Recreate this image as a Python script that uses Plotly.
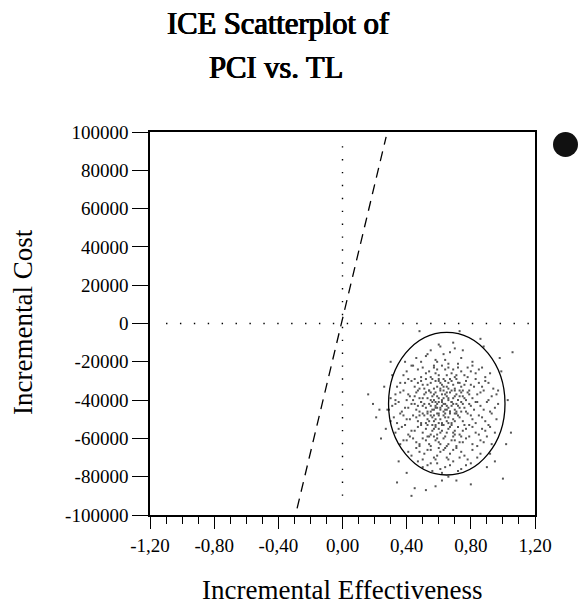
import plotly.graph_objects as go

# ---- data -------------------------------------------------------------
x_tick_vals = [-1.2, -0.8, -0.4, 0.0, 0.4, 0.8, 1.2]
x_tick_text = ["-1,20", "-0,80", "-0,40", "0,00", "0,40", "0,80", "1,20"]
x_minor_vals = [-1.1, -1.0, -0.9, -0.7, -0.6, -0.5, -0.3, -0.2, -0.1,
                0.1, 0.2, 0.3, 0.5, 0.6, 0.7, 0.9, 1.0, 1.1]
y_tick_vals = [-100000, -80000, -60000, -40000, -20000, 0,
               20000, 40000, 60000, 80000, 100000]
y_tick_text = ["-100000", "-80000", "-60000", "-40000", "-20000", "0",
               "20000", "40000", "60000", "80000", "100000"]

# bootstrap ICE replicates (incremental effectiveness, incremental cost in thousands)
ice_effect = [
    0.55, 0.63, 0.70, 0.58, 0.74, 0.49, 0.66, 0.81, 0.61, 0.44,
    0.40, 0.47, 0.52, 0.57, 0.60, 0.64, 0.68, 0.72, 0.76, 0.80, 0.85, 0.89, 0.55, 0.62, 0.70, 0.50,
    0.36, 0.41, 0.45, 0.49, 0.53, 0.56, 0.59, 0.61, 0.64, 0.66, 0.69, 0.71, 0.74, 0.77, 0.80, 0.83,
    0.87, 0.91, 0.51, 0.58, 0.63, 0.73, 0.67, 0.47,
    0.33, 0.38, 0.42, 0.46, 0.48, 0.51, 0.54, 0.56, 0.58, 0.60, 0.62, 0.63, 0.65, 0.67, 0.69, 0.71,
    0.73, 0.75, 0.78, 0.81, 0.84, 0.88, 0.93, 0.57, 0.61, 0.66, 0.70, 0.53, 0.44, 0.77,
    0.31, 0.35, 0.39, 0.43, 0.46, 0.49, 0.52, 0.54, 0.56, 0.58, 0.60, 0.61, 0.63, 0.64, 0.66, 0.68,
    0.70, 0.72, 0.74, 0.76, 0.79, 0.82, 0.86, 0.90, 0.95, 0.55, 0.59, 0.65, 0.71, 0.50, 0.62, 0.67,
    0.32, 0.36, 0.40, 0.44, 0.47, 0.50, 0.53, 0.55, 0.57, 0.59, 0.61, 0.63, 0.65, 0.67, 0.69, 0.72,
    0.75, 0.78, 0.81, 0.85, 0.89, 0.93, 0.52, 0.60, 0.68, 0.74, 0.56, 0.64,
    0.35, 0.39, 0.43, 0.47, 0.50, 0.53, 0.56, 0.58, 0.61, 0.63, 0.66, 0.69, 0.72, 0.75, 0.79, 0.83,
    0.87, 0.92, 0.60, 0.70, 0.55,
    0.38, 0.42, 0.46, 0.50, 0.54, 0.57, 0.60, 0.63, 0.66, 0.69, 0.73, 0.77, 0.81, 0.86, 0.90, 0.48,
    0.65, 0.58,
    0.41, 0.46, 0.51, 0.55, 0.59, 0.63, 0.67, 0.71, 0.76, 0.81, 0.86, 0.60,
    0.47, 0.53, 0.58, 0.64, 0.69, 0.74, 0.80, 0.56, 0.66,
    0.16, 0.21, 0.23, 0.24, 0.28, 0.31, 0.33, 1.06, 1.05, 1.02, 1.00, 0.34, 0.43, 0.52, 0.71, 0.90,
    0.48, 0.73, 0.97, 0.26, 0.62, 0.92, 0.98, 0.88,
    # second batch
    0.52, 0.60, 0.67, 0.72, 0.57, 0.46, 0.78, 0.64, 0.69, 0.53, 0.59, 0.75,
    0.38, 0.43, 0.49, 0.54, 0.59, 0.63, 0.66, 0.71, 0.74, 0.78, 0.83, 0.87, 0.45, 0.58, 0.69, 0.81,
    0.65, 0.92,
    0.34, 0.39, 0.43, 0.48, 0.52, 0.55, 0.57, 0.60, 0.62, 0.65, 0.68, 0.70, 0.72, 0.76, 0.79, 0.82,
    0.85, 0.89, 0.94, 0.54, 0.60, 0.66, 0.75, 0.50,
    0.30, 0.36, 0.40, 0.45, 0.47, 0.50, 0.52, 0.55, 0.57, 0.59, 0.61, 0.62, 0.64, 0.66, 0.68, 0.70,
    0.72, 0.74, 0.76, 0.79, 0.83, 0.86, 0.91, 0.96, 0.49, 0.55, 0.63, 0.68, 0.73, 0.58, 0.65, 0.41,
    0.29, 0.33, 0.37, 0.41, 0.45, 0.48, 0.51, 0.53, 0.55, 0.57, 0.59, 0.60, 0.62, 0.64, 0.65, 0.67,
    0.69, 0.71, 0.73, 0.75, 0.77, 0.80, 0.84, 0.88, 0.92, 0.97, 0.53, 0.58, 0.63, 0.68, 0.61, 0.70,
    0.56, 0.47,
    0.30, 0.34, 0.38, 0.42, 0.46, 0.49, 0.51, 0.54, 0.56, 0.58, 0.60, 0.62, 0.64, 0.66, 0.68, 0.70,
    0.73, 0.76, 0.80, 0.83, 0.87, 0.91, 0.96, 0.57, 0.62, 0.71, 0.66, 0.48,
    0.33, 0.37, 0.41, 0.45, 0.49, 0.52, 0.54, 0.57, 0.59, 0.62, 0.64, 0.67, 0.70, 0.73, 0.77, 0.81,
    0.85, 0.89, 0.95, 0.65, 0.58, 0.74,
    0.36, 0.40, 0.44, 0.48, 0.52, 0.55, 0.59, 0.61, 0.64, 0.68, 0.71, 0.75, 0.79, 0.84, 0.88, 0.93,
    0.53, 0.70,
    0.43, 0.48, 0.53, 0.57, 0.61, 0.65, 0.69, 0.74, 0.78, 0.84, 0.50, 0.73,
    0.50, 0.55, 0.61, 0.67, 0.72, 0.77, 0.62, 0.59,
    0.19, 0.27, 0.35, 0.39, 0.45, 0.58, 0.66, 0.80, 0.95, 1.03, 0.99, 0.86, 0.40, 0.30,
]
ice_cost_k = [
    -14, -16, -13, -19, -18, -20, -21, -20, -12, -22,
    -25, -24, -26, -23, -27, -24, -26, -23, -27, -25, -24, -28, -28, -22, -28, -23,
    -31, -29, -33, -30, -32, -29, -33, -31, -30, -34, -32, -29, -33, -30, -32, -29,
    -33, -31, -34, -30, -33, -31, -29, -31,
    -37, -35, -38, -36, -39, -37, -35, -38, -36, -39, -37, -35, -38, -36, -39, -37,
    -35, -38, -36, -39, -37, -35, -38, -40, -34, -40, -35, -39, -40, -40,
    -43, -41, -44, -42, -45, -41, -44, -42, -45, -43, -41, -44, -46, -42, -44, -41,
    -45, -43, -41, -44, -42, -45, -43, -41, -44, -46, -42, -45, -42, -43, -43, -46,
    -49, -47, -50, -48, -51, -47, -50, -48, -51, -47, -50, -48, -51, -47, -50, -48,
    -51, -47, -50, -48, -51, -47, -52, -52, -52, -46, -49, -49,
    -55, -53, -56, -54, -57, -53, -56, -54, -57, -53, -55, -57, -54, -56, -53, -57,
    -55, -54, -55, -58, -58,
    -61, -59, -62, -60, -63, -59, -62, -60, -63, -59, -62, -60, -63, -61, -59, -64,
    -64, -61,
    -67, -65, -68, -66, -69, -66, -68, -65, -69, -66, -68, -65,
    -72, -74, -71, -75, -72, -76, -73, -77, -71,
    -37, -49, -45, -60, -45, -27, -40, -15, -57, -63, -81, -83, -90, -87, -82, -75,
    -4, -4, -35, -33, -82, -68, -18, -12,
    # second batch
    -17, -11, -15, -21, -22, -18, -23, -19, -10, -16, -20, -14,
    -27, -22, -28, -25, -24, -29, -23, -27, -25, -28, -26, -23, -29, -26, -24, -22,
    -27, -26,
    -33, -31, -30, -34, -29, -31, -34, -30, -32, -33, -30, -34, -31, -32, -35, -33,
    -31, -30, -34, -35, -29, -31, -35, -32,
    -39, -36, -40, -38, -35, -39, -36, -40, -37, -38, -35, -40, -37, -39, -35, -38,
    -40, -36, -39, -37, -41, -36, -40, -37, -41, -36, -39, -41, -38, -41, -36, -37,
    -45, -42, -46, -44, -42, -46, -42, -46, -43, -45, -44, -47, -41, -45, -43, -46,
    -42, -46, -44, -42, -46, -43, -41, -45, -46, -42, -47, -44, -42, -43, -45, -47,
    -41, -43,
    -51, -52, -48, -50, -49, -52, -48, -51, -53, -50, -48, -52, -47, -49, -53, -51,
    -49, -53, -48, -52, -49, -53, -50, -48, -53, -47, -52, -48,
    -57, -54, -58, -56, -53, -55, -59, -55, -58, -56, -59, -54, -56, -58, -55, -54,
    -58, -56, -57, -57, -53, -59,
    -63, -61, -60, -63, -61, -64, -60, -63, -65, -61, -64, -62, -59, -64, -62, -63,
    -59, -61,
    -69, -67, -66, -70, -67, -70, -66, -67, -71, -70, -71, -70,
    -75, -73, -76, -74, -77, -74, -78, -73,
    -42, -55, -72, -20, -86, -85, -80, -84, -72, -40, -25, -8, -78, -20,
]

# confidence ellipse (effect range, cost range)
ellipse_effect = [0.287, 1.013]
ellipse_cost = [-79100, -4600]

# willingness-to-pay reference line end points
wtp_effect = [-0.283, 0.272]
wtp_cost = [-96500, 97500]

# origin reference lines
hline_effect = [-1.1, 1.2]
vline_cost = [-90000, 93000]

SERIF = "Liberation Serif"
# the bold serif face is not installed: embolden the regular face with a tight shadow
FAUX_BOLD = "0.7px 0 0 black, -0.4px 0 0 black, 0 0.3px 0 black"

fig = go.Figure()

fig.add_trace(go.Scatter(
    x=ice_effect, y=[c * 1000 for c in ice_cost_k], mode="markers",
    marker=dict(size=2, color="#555555", symbol="square", line=dict(width=0)),
    showlegend=False, hoverinfo="skip"))

fig.add_trace(go.Scatter(
    x=hline_effect, y=[0, 0], mode="lines",
    line=dict(color="black", width=1.4, dash="1.4px,12.5px"),
    showlegend=False, hoverinfo="skip"))
fig.add_trace(go.Scatter(
    x=[0, 0], y=vline_cost, mode="lines",
    line=dict(color="black", width=1.4, dash="1.4px,11.5px"),
    showlegend=False, hoverinfo="skip"))
fig.add_trace(go.Scatter(
    x=wtp_effect, y=wtp_cost, mode="lines",
    line=dict(color="black", width=1.3, dash="10px,7px"),
    showlegend=False, hoverinfo="skip"))

fig.add_shape(type="circle", xref="x", yref="y",
              x0=ellipse_effect[0], x1=ellipse_effect[1],
              y0=ellipse_cost[0], y1=ellipse_cost[1],
              line=dict(color="black", width=1.3))

# black legend dot at top-right
fig.add_shape(type="circle", xref="paper", yref="paper",
              x0=(553 - 150) / 385, x1=(578 - 150) / 385,
              y0=(515 - 157) / 383, y1=(515 - 132) / 383,
              line=dict(color="#111", width=0), fillcolor="#111")

axis_common = dict(showgrid=False, zeroline=False, showline=True, linecolor="black",
                   linewidth=1.5, mirror=True, ticks="outside", tickcolor="black",
                   tickwidth=1.3, tickfont=dict(family=SERIF, size=19, color="black"))

fig.update_xaxes(range=[-1.2, 1.2], tickmode="array", tickvals=x_tick_vals,
                 ticktext=x_tick_text, ticklen=12,
                 minor=dict(tickmode="array", tickvals=x_minor_vals, ticks="outside",
                            ticklen=7, tickcolor="black", tickwidth=1.3, showgrid=False),
                 **axis_common)
fig.update_yaxes(range=[-100000, 100000], tickmode="array", tickvals=y_tick_vals,
                 ticktext=y_tick_text, ticklen=16, **axis_common)

annos = [
    dict(text="ICE Scatterplot of", x=(278 - 150) / 385, y=(515 - 24) / 383,
         font=dict(family=SERIF, size=30.5, color="black", shadow=FAUX_BOLD)),
    dict(text="PCI vs. TL", x=(276 - 150) / 385, y=(515 - 68) / 383,
         font=dict(family=SERIF, size=30.5, color="black", shadow=FAUX_BOLD)),
    dict(text="Incremental Effectiveness", x=(342 - 150) / 385, y=(515 - 590) / 383,
         font=dict(family=SERIF, size=27, color="black")),
    dict(text="Incremental Cost", x=(23 - 150) / 385, y=(515 - 322) / 383, textangle=-90,
         font=dict(family=SERIF, size=27, color="black")),
]
for a in annos:
    fig.add_annotation(xref="paper", yref="paper", showarrow=False,
                       xanchor="center", yanchor="middle", **a)

fig.update_layout(width=579, height=607, margin=dict(l=150, r=44, t=132, b=92),
                  plot_bgcolor="white", paper_bgcolor="white")

# remove the default page margin so the 579x607 figure fills the window exactly
fig.write_html("out.html", config={"displayModeBar": False},
               post_script="document.body.style.margin='0';"
                           "document.body.style.overflow='hidden';")
